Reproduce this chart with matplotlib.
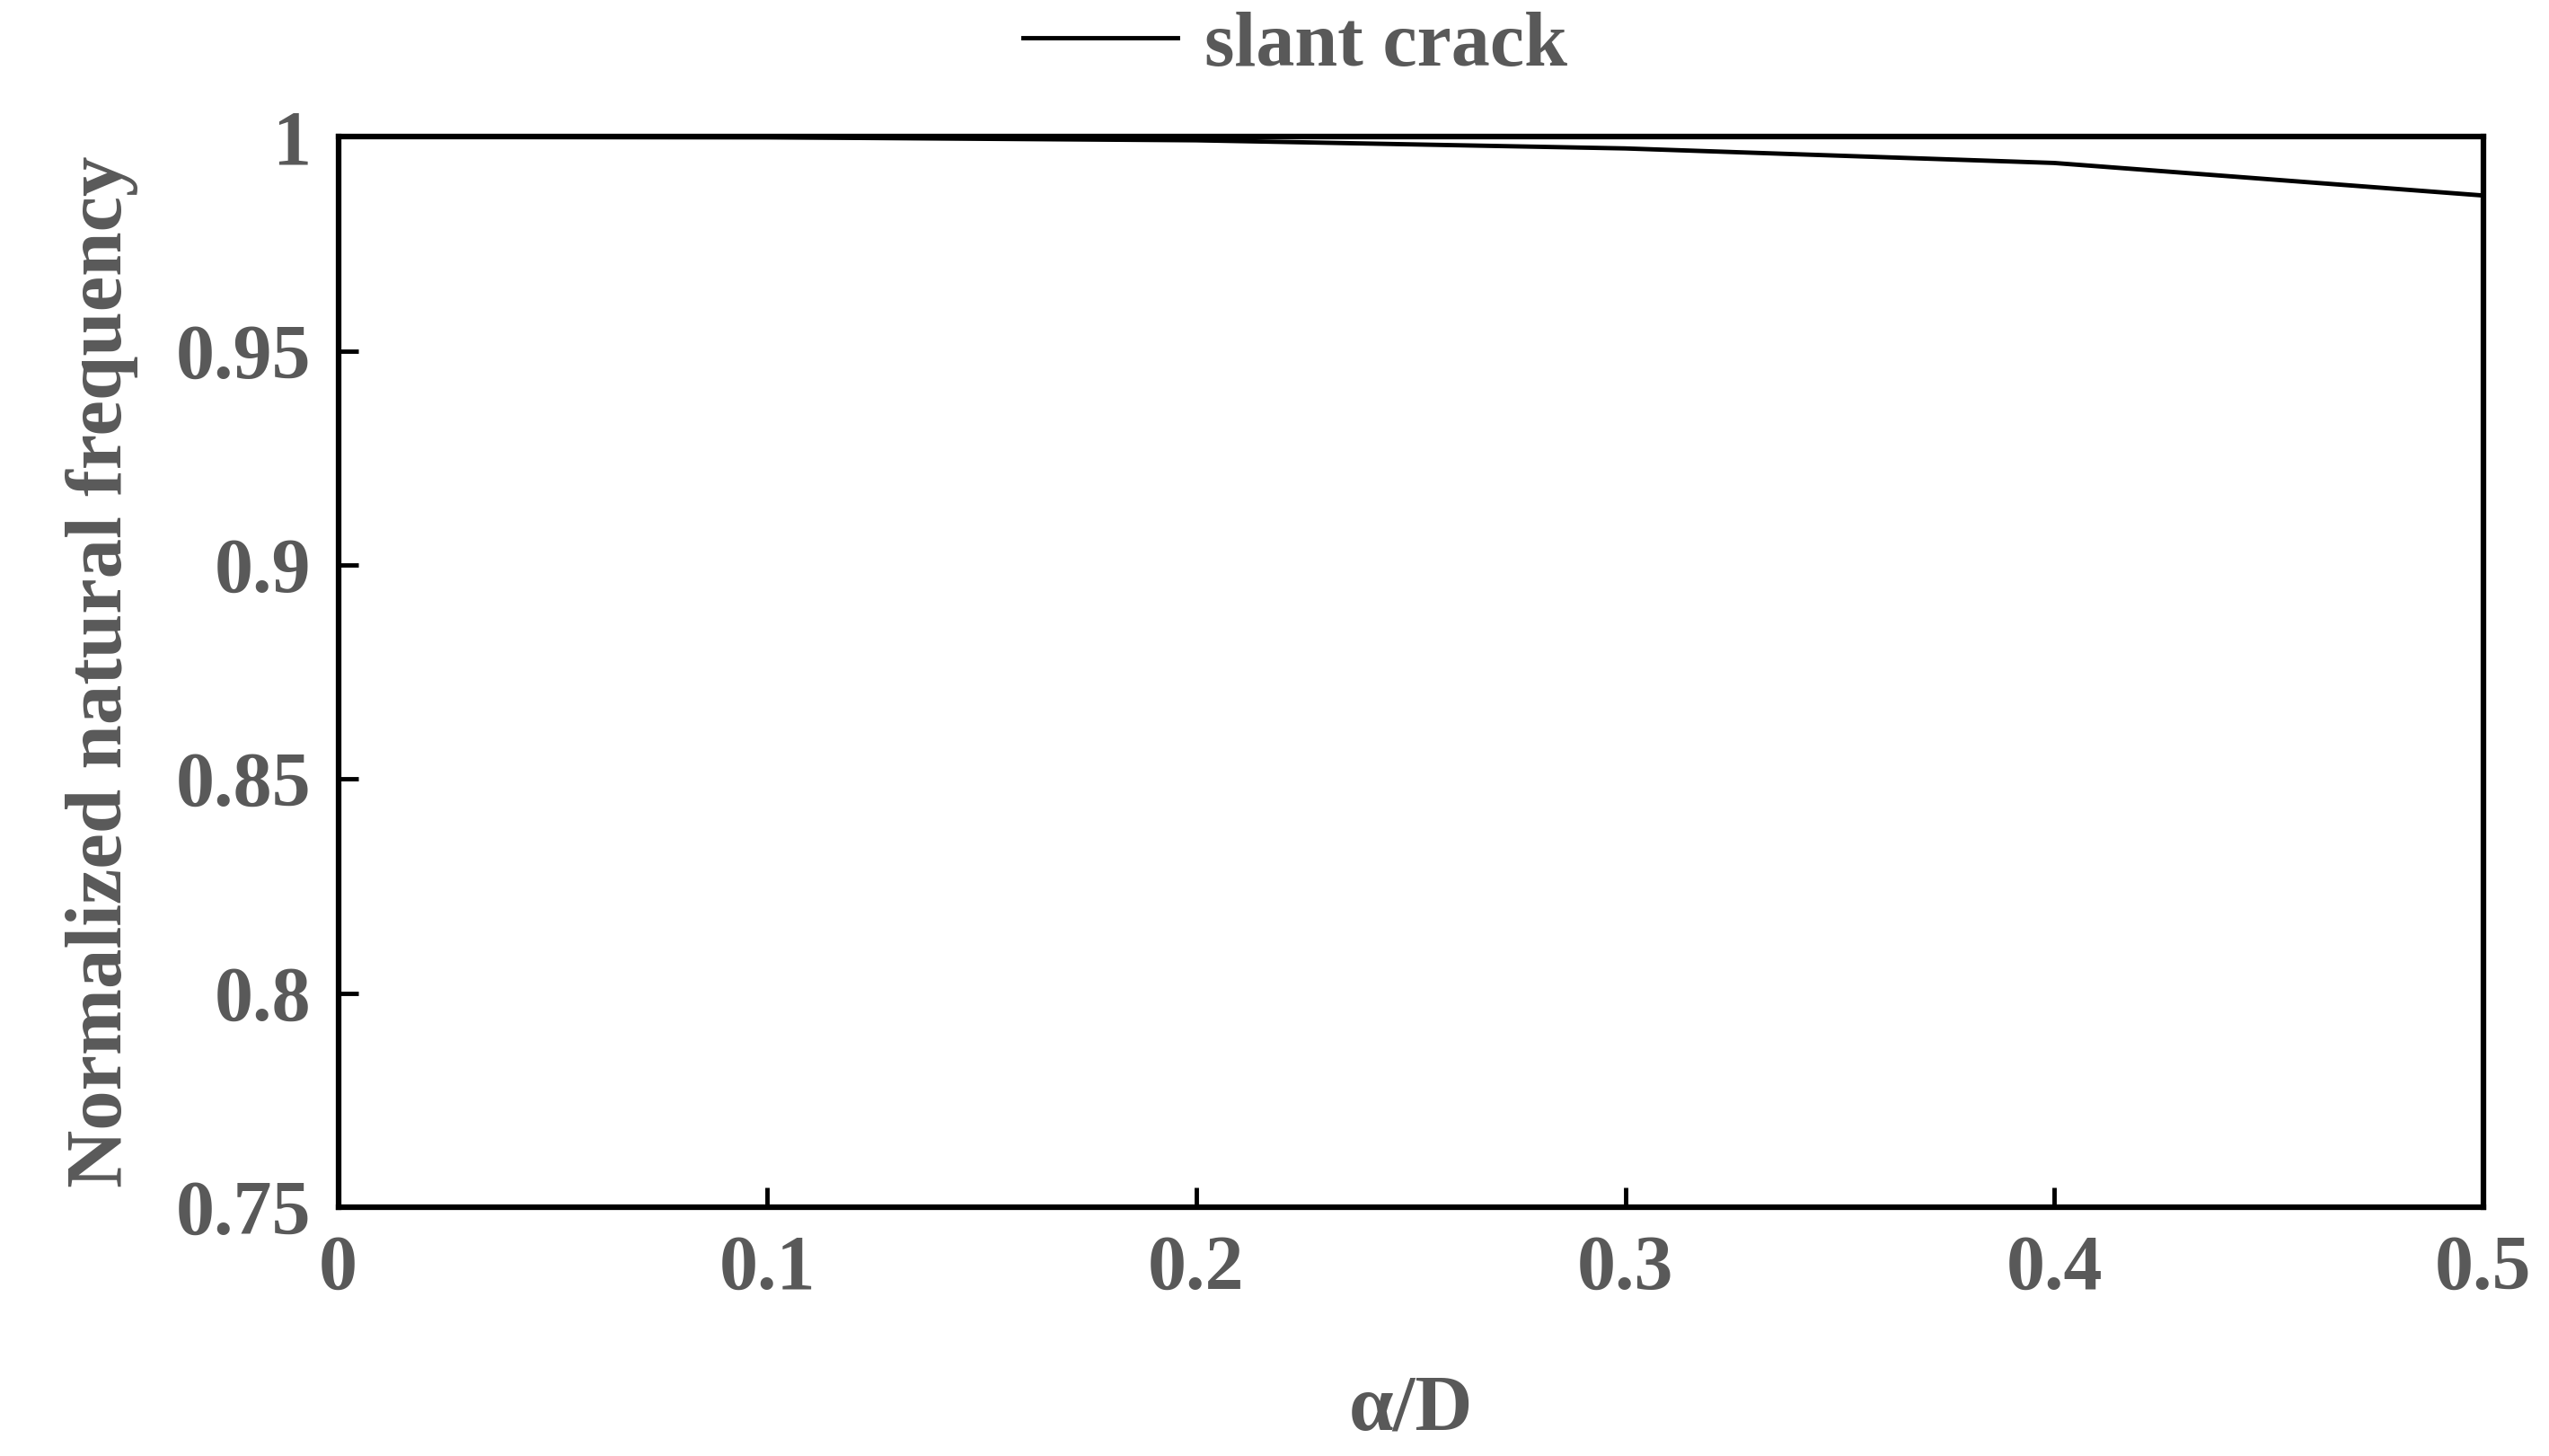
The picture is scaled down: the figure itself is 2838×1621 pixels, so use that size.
import matplotlib
matplotlib.use("Agg")
import matplotlib.pyplot as plt

x = [0, 0.1, 0.2, 0.3, 0.4, 0.5]
y = [1.0, 0.9999, 0.9992, 0.9973, 0.9939, 0.9863]
xticks = [0, 0.1, 0.2, 0.3, 0.4, 0.5]
xticklabels = ["0", "0.1", "0.2", "0.3", "0.4", "0.5"]
yticks = [0.75, 0.8, 0.85, 0.9, 0.95, 1.0]
yticklabels = ["0.75", "0.8", "0.85", "0.9", "0.95", "1"]

plt.rcParams['font.family'] = ['Liberation Serif', 'DejaVu Serif']
plt.rcParams['font.weight'] = 'bold'
gray = '#595959'

fig = plt.figure(figsize=(28.38, 16.21), dpi=100)
ax = fig.add_axes([0.1327, 0.171, 0.8415, 0.735])
ax.plot(x, y, color='black', lw=3.5, label='slant crack')
ax.set_xlim(0, 0.5)
ax.set_ylim(0.75, 1.0)
ax.set_xticks(xticks)
ax.set_xticklabels(xticklabels)
ax.set_yticks(yticks)
ax.set_yticklabels(yticklabels)
for s in ax.spines.values():
    s.set_linewidth(4.5)
ax.tick_params(direction='in', length=16, width=3.5, labelsize=62, labelcolor=gray, pad=22)
ax.set_xlabel('α/D', fontsize=64, color=gray, fontweight='bold', labelpad=55)
ax.set_ylabel('Normalized natural frequency', fontsize=64, color=gray, fontweight='bold', labelpad=30)
leg = fig.legend(*ax.get_legend_handles_labels(), loc='center', bbox_to_anchor=(0.508, 0.968),
                 frameon=False, fontsize=62, handlelength=2.0, handletextpad=0.35)
for t in leg.get_texts():
    t.set_color(gray)
fig.savefig('out.png', dpi=100)
